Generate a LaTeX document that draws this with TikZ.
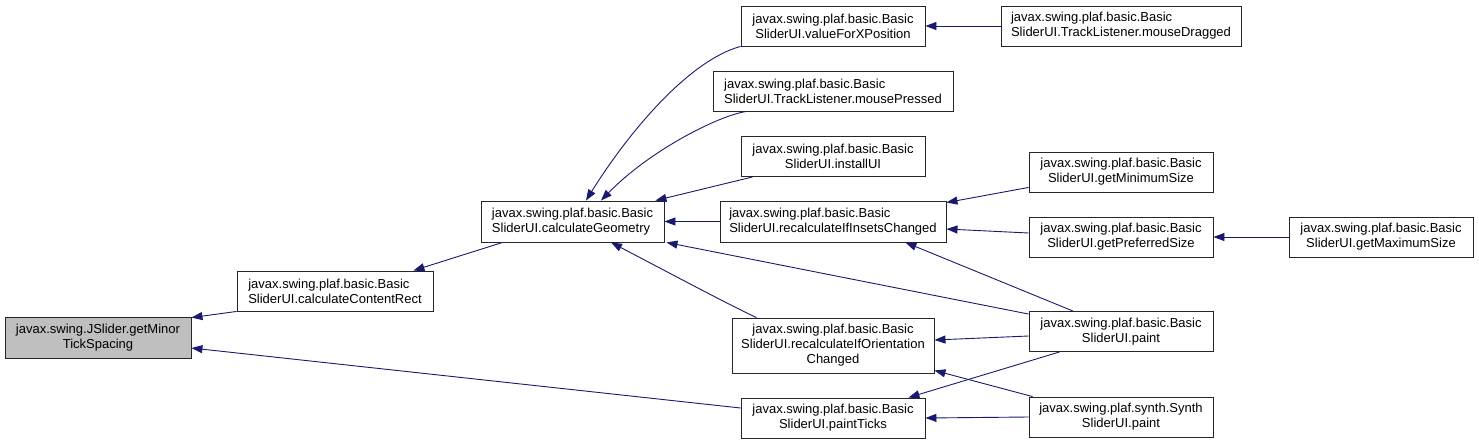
\documentclass[tikz,border=0pt]{standalone}
\usepackage{fontspec}
\setmainfont{Liberation Sans}
\usetikzlibrary{arrows.meta,calc}
\definecolor{edgec}{RGB}{25,25,112}
\definecolor{graybox}{RGB}{191,191,191}
\begin{document}
\begin{tikzpicture}[x=1pt,y=-1pt,
  box/.style={draw=black!85, line width=0.9pt, fill=white, inner sep=0pt,
    font=\fontsize{13}{15}\selectfont, align=center, minimum height=40pt},
  lbox/.style={box, align=left},
  e/.style={draw=edgec, line width=0.9pt, -{Triangle[length=11pt,width=8pt]}}]
\fill[white] (0,0) rectangle (1479,445);
\useasboundingbox (0,0) rectangle (1479,445);

% nodes
\node[box, fill=graybox, minimum width=186pt, minimum height=41pt] (gm) at (98,337.5) {javax.swing.JSlider.getMinor\\TickSpacing};
\node[lbox, minimum width=196pt] (ccr) at (335,291) {javax.swing.plaf.basic.Basic\\SliderUI.calculateContentRect};
\node[lbox, minimum width=183pt, minimum height=41pt] (cg) at (572.5,221.5) {javax.swing.plaf.basic.Basic\\SliderUI.calculateGeometry};
\node[box, minimum width=184pt] (vx) at (833,26) {javax.swing.plaf.basic.Basic\\SliderUI.valueForXPosition};
\node[lbox, minimum width=240pt] (mp) at (833,91) {javax.swing.plaf.basic.Basic\\SliderUI.TrackListener.mousePressed};
\node[box, minimum width=184pt] (iu) at (833,156.5) {javax.swing.plaf.basic.Basic\\SliderUI.installUI};
\node[lbox, minimum width=226pt, minimum height=41pt] (ri) at (833,221.5) {javax.swing.plaf.basic.Basic\\SliderUI.recalculateIfInsetsChanged};
\node[box, minimum width=202pt, minimum height=55pt] (ro) at (833,345.5) {javax.swing.plaf.basic.Basic\\SliderUI.recalculateIfOrientation\\Changed};
\node[box, minimum width=184pt] (pt) at (833,418) {javax.swing.plaf.basic.Basic\\SliderUI.paintTicks};
\node[lbox, minimum width=240pt] (md) at (1121,26) {javax.swing.plaf.basic.Basic\\SliderUI.TrackListener.mouseDragged};
\node[box, minimum width=184pt] (gmin) at (1121,172) {javax.swing.plaf.basic.Basic\\SliderUI.getMinimumSize};
\node[box, minimum width=184pt] (gp) at (1121,237) {javax.swing.plaf.basic.Basic\\SliderUI.getPreferredSize};
\node[box, minimum width=184pt] (pa) at (1121,331.5) {javax.swing.plaf.basic.Basic\\SliderUI.paint};
\node[box, minimum width=184pt] (sy) at (1121,417) {javax.swing.plaf.synth.Synth\\SliderUI.paint};
\node[box, minimum width=184pt] (gmax) at (1381,237) {javax.swing.plaf.basic.Basic\\SliderUI.getMaximumSize};

% edges (caller -> callee)
\draw[e] (ccr.south west) -- ($(gm.north east)+(0,1)$);
\draw[e] ($(pt.west)+(0,-10)$) -- ($(gm.east)+(0,10.5)$);
\draw[e] ($(cg.south west)+(22,0)$) -- ($(ccr.north east)+(-20,0)$);
\draw[e] (vx.south west) .. controls (690,60) and (630,130) .. ($(cg.north)+(13.5,0)$);
\draw[e] ($(mp.south west)+(34,0)$) .. controls (720,115) and (650,150) .. ($(cg.north)+(28.5,0)$);
\draw[e] ($(iu.south west)+(12,0)$) -- ($(cg.north east)+(-9,0)$);
\draw[e] (ri.west) -- (cg.east);
\draw[e] ($(pa.north west)+(0,3)$) -- ($(cg.south east)+(2,0)$);
\draw[e] ($(ro.north west)+(25,0)$) .. controls (735,308) and (660,268) .. ($(cg.south)+(38.5,0)$);
\draw[e] (md.west) -- (vx.east);
\draw[e] ($(gmin.south west)+(0,-5)$) -- ($(ri.north east)+(0,2)$);
\draw[e] ($(gp.west)+(0,-4)$) -- ($(ri.east)+(0,7.5)$);
\draw[e] ($(pa.north)+(-48,0)$) -- ($(ri.south east)+(-41,0)$);
\draw[e] ($(pa.west)+(0,4.5)$) -- ($(ro.east)+(0,-5.5)$);
\draw[e] ($(sy.north west)+(4,0)$) -- ($(ro.south east)+(0,-3)$);
\draw[e] ($(pa.south west)+(31,0)$) -- ($(pt.north east)+(-17,0)$);
\draw[e] (sy.west) -- (pt.east);
\draw[e] (gmax.west) -- (gp.east);
\end{tikzpicture}
\end{document}
